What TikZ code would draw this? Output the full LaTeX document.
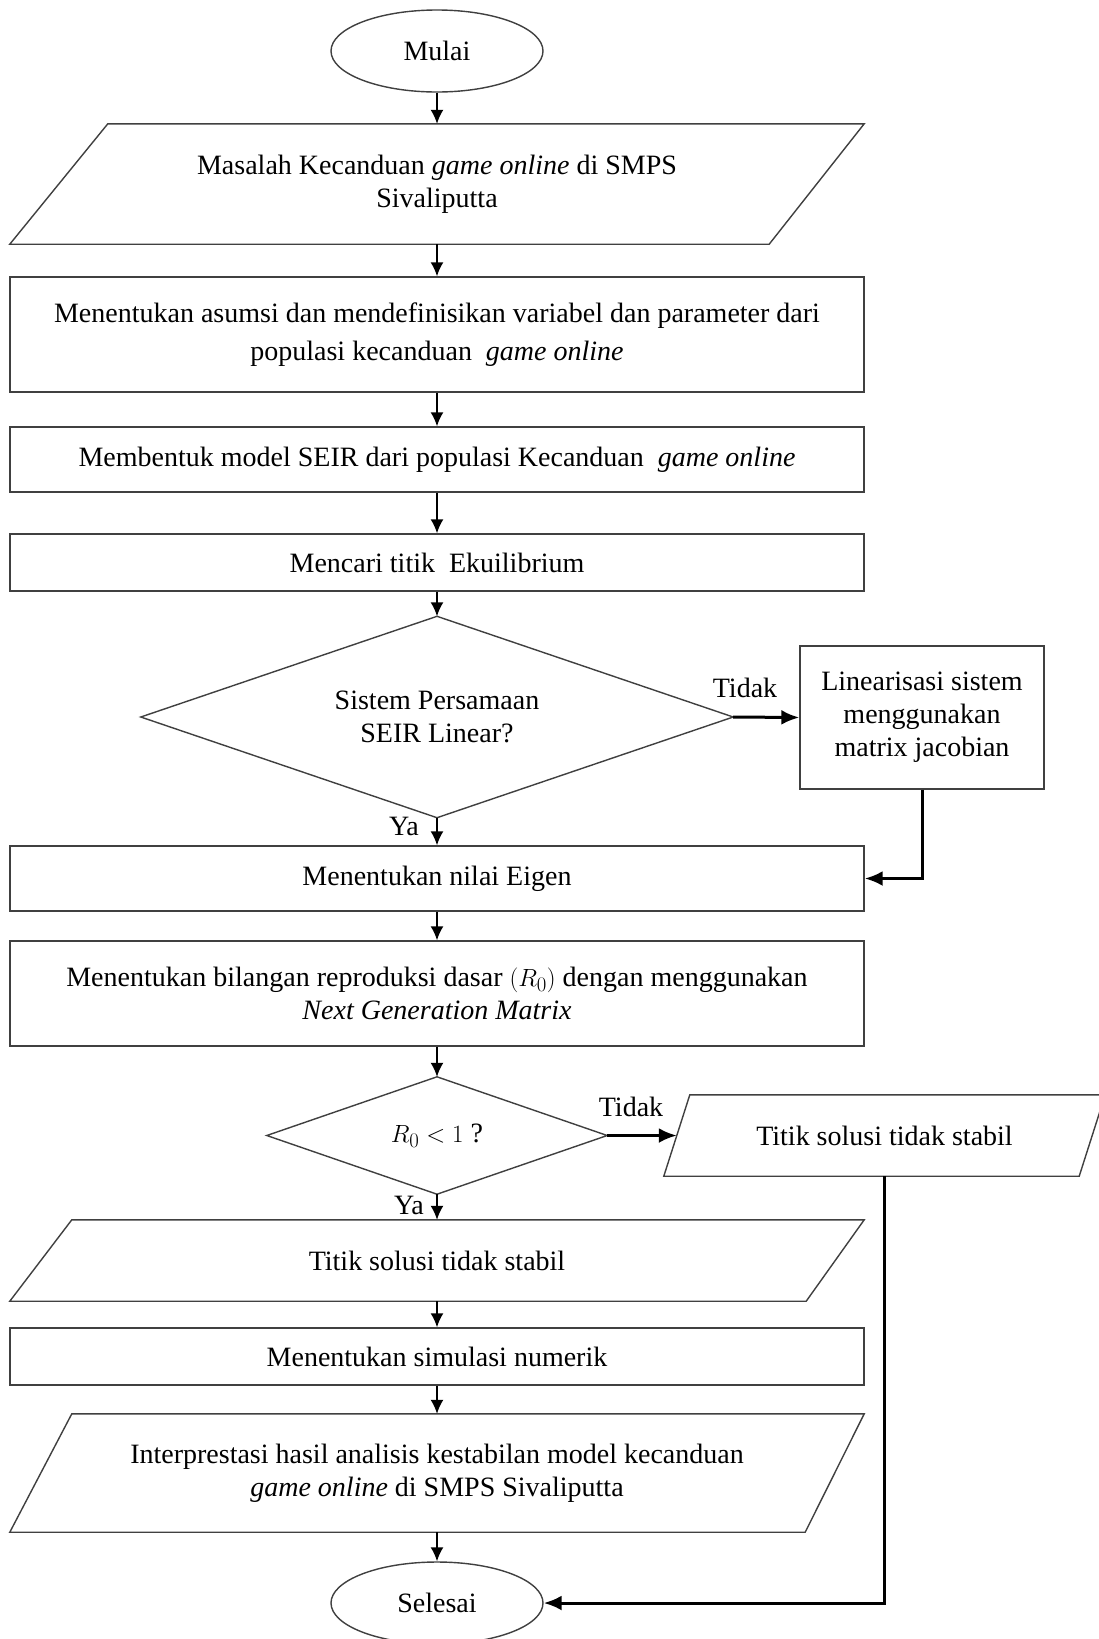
\documentclass[tikz,border=0pt]{standalone}
\usepackage{fontspec}
\setmainfont{Liberation Serif}
\usetikzlibrary{arrows.meta,shapes.geometric}
\begin{document}
\begin{tikzpicture}[x=1pt,y=-1pt,
  every node/.style={font=\fontsize{28}{33}\selectfont, align=center},
  bord/.style={draw=black!75, line width=1.4pt},
  box/.style={bord, rectangle, inner sep=0pt, minimum width=854pt},
  ghost/.style={rectangle, inner sep=0pt},
  oval/.style={bord, ellipse, inner sep=0pt, minimum width=212pt, minimum height=82pt},
  arr/.style={-{Latex[length=14pt,width=13pt]}, line width=1.8pt},
  bigarr/.style={-{Latex[length=18pt,width=15pt]}, line width=3pt},
  lbl/.style={inner sep=0pt}
]
\clip (0,0) rectangle (1099,1639);
\fill[white] (0,0) rectangle (1099,1639);

% nodes
\node[oval] (mulai) at (437,51) {Mulai};

\node[ghost, minimum width=854pt, minimum height=120pt] (p1) at (437,184)
  {Masalah Kecanduan \textit{game online} di SMPS\\ Sivaliputta};
\draw[bord] ([xshift=98pt]p1.north west) -- (p1.north east) -- ([xshift=-95pt]p1.south east) -- (p1.south west) -- cycle;

\node[box, minimum height=115pt] (r2) at (437,334.5)
  {Menentukan asumsi dan mendefinisikan variabel dan parameter dari\\[5pt] populasi kecanduan\ \ \textit{game online}};

\node[box, minimum height=65pt] (r3) at (437,459.5)
  {Membentuk model SEIR dari populasi Kecanduan\ \ \textit{game online}};

\node[box, minimum height=57pt] (r4) at (437,562.5)
  {Mencari titik\ \ Ekuilibrium};

\node[ghost, minimum width=592pt, minimum height=201pt] (d1) at (437,717)
  {Sistem Persamaan\\ SEIR Linear?};
\draw[bord] (d1.north) -- (d1.east) -- (d1.south) -- (d1.west) -- cycle;

\node[bord, rectangle, inner sep=0pt, minimum width=244pt, minimum height=143pt] (lin) at (922,717.5)
  {Linearisasi sistem\\ menggunakan\\ matrix jacobian};

\node[box, minimum height=65pt] (r5) at (437,878.5)
  {Menentukan nilai Eigen};

\node[box, minimum height=105pt] (r6) at (437,993.5)
  {Menentukan bilangan reproduksi dasar $(R_0)$ dengan menggunakan\\ \textit{Next Generation Matrix}};

\node[ghost, minimum width=340pt, minimum height=117pt] (d2) at (437,1135.5)
  {$R_0 < 1$ ?};
\draw[bord] (d2.north) -- (d2.east) -- (d2.south) -- (d2.west) -- cycle;

\node[ghost, minimum width=441pt, minimum height=81pt] (p4) at (884.5,1135.5)
  {Titik solusi tidak stabil};
\draw[bord] ([xshift=26pt]p4.north west) -- (p4.north east) -- ([xshift=-26pt]p4.south east) -- (p4.south west) -- cycle;

\node[ghost, minimum width=854pt, minimum height=81pt] (p2) at (437,1260.5)
  {Titik solusi tidak stabil};
\draw[bord] ([xshift=62pt]p2.north west) -- (p2.north east) -- ([xshift=-58pt]p2.south east) -- (p2.south west) -- cycle;

\node[box, minimum height=57pt] (r7) at (437,1356.5)
  {Menentukan simulasi numerik};

\node[ghost, minimum width=854pt, minimum height=118pt] (p3) at (437,1473)
  {Interprestasi hasil analisis kestabilan model kecanduan\\ \textit{game online} di SMPS Sivaliputta};
\draw[bord] ([xshift=62pt]p3.north west) -- (p3.north east) -- ([xshift=-59pt]p3.south east) -- (p3.south west) -- cycle;

\node[oval] (selesai) at (437,1603) {Selesai};

% labels
\node[lbl] (tidak1) at (745,688) {Tidak};
\node[lbl] (ya1) at (404,826) {Ya};
\node[lbl] (tidak2) at (631,1107) {Tidak};
\node[lbl] (ya2) at (409,1205) {Ya};

% connectors
\draw[arr] (mulai.south) -- (p1.north);
\draw[arr] (p1.south) -- (r2.north);
\draw[arr] (r2.south) -- (r3.north);
\draw[arr] (r3.south) -- (r4.north);
\draw[arr] (r4.south) -- (d1.north);
\draw[bigarr] (d1.east) -- (lin.west);
\draw[bigarr] (lin.south) |- (r5.east);
\draw[arr] (d1.south) -- (r5.north);
\draw[arr] (r5.south) -- (r6.north);
\draw[arr] (r6.south) -- (d2.north);
\draw[bigarr] (d2.east) -- ([xshift=13pt]p4.west);
\draw[arr] (d2.south) -- (p2.north);
\draw[arr] (p2.south) -- (r7.north);
\draw[arr] (r7.south) -- (p3.north);
\draw[arr] (p3.south) -- (selesai.north);
\draw[bigarr] (p4.south) |- (selesai.east);
\end{tikzpicture}
\end{document}
